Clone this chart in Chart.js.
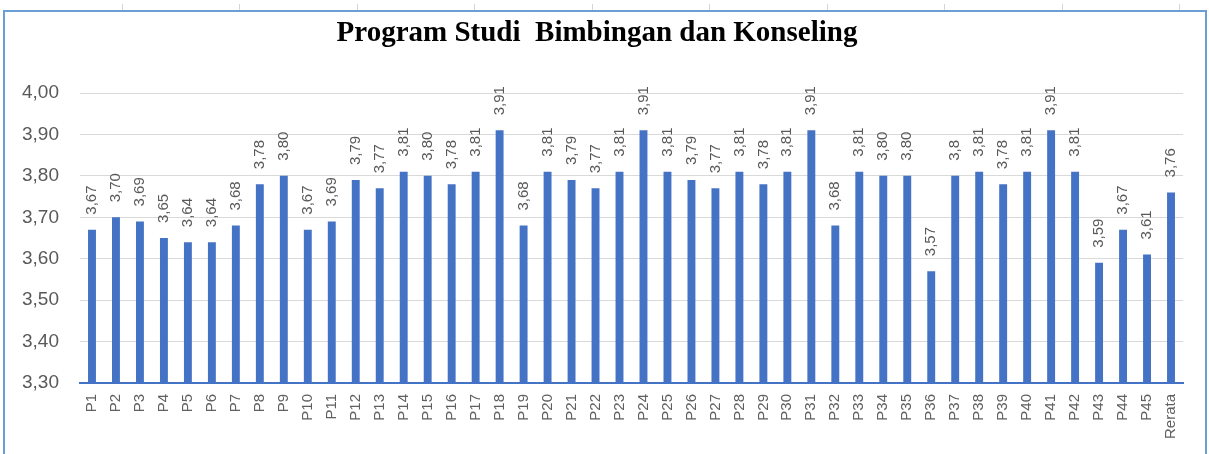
<!DOCTYPE html>
<html>
<head>
<meta charset="utf-8">
<title>Program Studi Bimbingan dan Konseling</title>
<script src="https://cdn.jsdelivr.net/npm/chart.js@4.4.1/dist/chart.umd.min.js"></script>
<style>
  html, body { margin: 0; padding: 0; background: #fff; }
  canvas { display: block; }
</style>
</head>
<body>
<canvas id="grafik" width="1209" height="454"></canvas>
<script>
const categories = ["P1", "P2", "P3", "P4", "P5", "P6", "P7", "P8", "P9", "P10",
  "P11", "P12", "P13", "P14", "P15", "P16", "P17", "P18", "P19", "P20",
  "P21", "P22", "P23", "P24", "P25", "P26", "P27", "P28", "P29", "P30",
  "P31", "P32", "P33", "P34", "P35", "P36", "P37", "P38", "P39", "P40",
  "P41", "P42", "P43", "P44", "P45", "Rerata"];

const scores = [3.67, 3.70, 3.69, 3.65, 3.64, 3.64, 3.68, 3.78, 3.80, 3.67,
  3.69, 3.79, 3.77, 3.81, 3.80, 3.78, 3.81, 3.91, 3.68, 3.81,
  3.79, 3.77, 3.81, 3.91, 3.81, 3.79, 3.77, 3.81, 3.78, 3.81,
  3.91, 3.68, 3.81, 3.80, 3.80, 3.57, 3.80, 3.81, 3.78, 3.81,
  3.91, 3.81, 3.59, 3.67, 3.61, 3.76];

// labels as printed above the bars (P37 shows "3,8")
const barLabels = ["3,67", "3,70", "3,69", "3,65", "3,64", "3,64", "3,68", "3,78", "3,80", "3,67",
  "3,69", "3,79", "3,77", "3,81", "3,80", "3,78", "3,81", "3,91", "3,68", "3,81",
  "3,79", "3,77", "3,81", "3,91", "3,81", "3,79", "3,77", "3,81", "3,78", "3,81",
  "3,91", "3,68", "3,81", "3,80", "3,80", "3,57", "3,8", "3,81", "3,78", "3,81",
  "3,91", "3,81", "3,59", "3,67", "3,61", "3,76"];

const yMin = 3.3;
const yMax = 4.0;
const yStep = 0.1;

const chartTitle = "Program Studi  Bimbingan dan Konseling";

const fmtKoma = (v) => Number(v).toFixed(2).replace(".", ",");

// frame, title and value labels
const hiasan = {
  id: "hiasan",
  beforeDraw(chart) {
    const ctx = chart.ctx;
    ctx.save();
    ctx.fillStyle = "#ffffff";
    ctx.fillRect(0, 0, chart.width, chart.height);

    // faint sheet gridline marks above the chart frame
    ctx.strokeStyle = "#d6d6d6";
    ctx.lineWidth = 1;
    for (let x = 121.5; x < chart.width; x += 117.5) {
      ctx.beginPath();
      ctx.moveTo(Math.round(x) + 0.5, 4);
      ctx.lineTo(Math.round(x) + 0.5, 11);
      ctx.stroke();
    }

    ctx.strokeStyle = "#6a9fd6";
    ctx.lineWidth = 2;
    ctx.strokeRect(4, 11, chart.width - 7, chart.height + 20);

    ctx.fillStyle = "#000000";
    ctx.font = "bold 29px 'Liberation Serif', 'Times New Roman', serif";
    ctx.textAlign = "center";
    ctx.textBaseline = "alphabetic";
    ctx.fillText(chartTitle, 597, 41);
    ctx.restore();
  },
  afterDatasetsDraw(chart) {
    const ctx = chart.ctx;
    const meta = chart.getDatasetMeta(0);
    ctx.save();
    ctx.fillStyle = "#595959";
    ctx.font = "15px 'Liberation Sans', Arial, sans-serif";
    ctx.textAlign = "left";
    ctx.textBaseline = "middle";
    meta.data.forEach((bar, i) => {
      ctx.save();
      ctx.translate(bar.x, bar.y - 15);
      ctx.rotate(-Math.PI / 2);
      ctx.fillText(barLabels[i], 0, 0);
      ctx.restore();
    });
    ctx.restore();
  }
};

const ctx = document.getElementById("grafik").getContext("2d");

new Chart(ctx, {
  type: "bar",
  data: {
    labels: categories,
    datasets: [{
      label: "Skor",
      data: scores,
      backgroundColor: "#4472c4",
      borderWidth: 0,
      barPercentage: 0.33,
      categoryPercentage: 1.0
    }]
  },
  options: {
    responsive: false,
    animation: false,
    devicePixelRatio: 1,
    layout: {
      padding: { left: 0, top: 93, right: 26, bottom: 0 }
    },
    plugins: {
      legend: { display: false },
      title: { display: false },
      tooltip: { enabled: false }
    },
    scales: {
      x: {
        afterFit: (s) => { s.height = 71; },
        grid: { display: false, drawTicks: false },
        border: { display: true, color: "#4472c4", width: 2 },
        ticks: {
          autoSkip: false,
          minRotation: 90,
          maxRotation: 90,
          padding: 11,
          color: "#606060",
          font: { family: "'Liberation Sans', Arial, sans-serif", size: 15 }
        }
      },
      y: {
        min: yMin,
        max: yMax,
        afterFit: (s) => { s.width = 80; },
        grid: {
          drawTicks: false,
          color: (c) => (c.tick && Math.abs(c.tick.value - yMin) < 1e-6) ? "rgba(0,0,0,0)" : "#d9d9d9",
          lineWidth: 1
        },
        border: { display: false },
        ticks: {
          stepSize: yStep,
          padding: 21,
          color: "#595959",
          font: { family: "'Liberation Sans', Arial, sans-serif", size: 19 },
          callback: (v) => fmtKoma(v)
        }
      }
    }
  },
  plugins: [hiasan]
});
</script>
</body>
</html>
